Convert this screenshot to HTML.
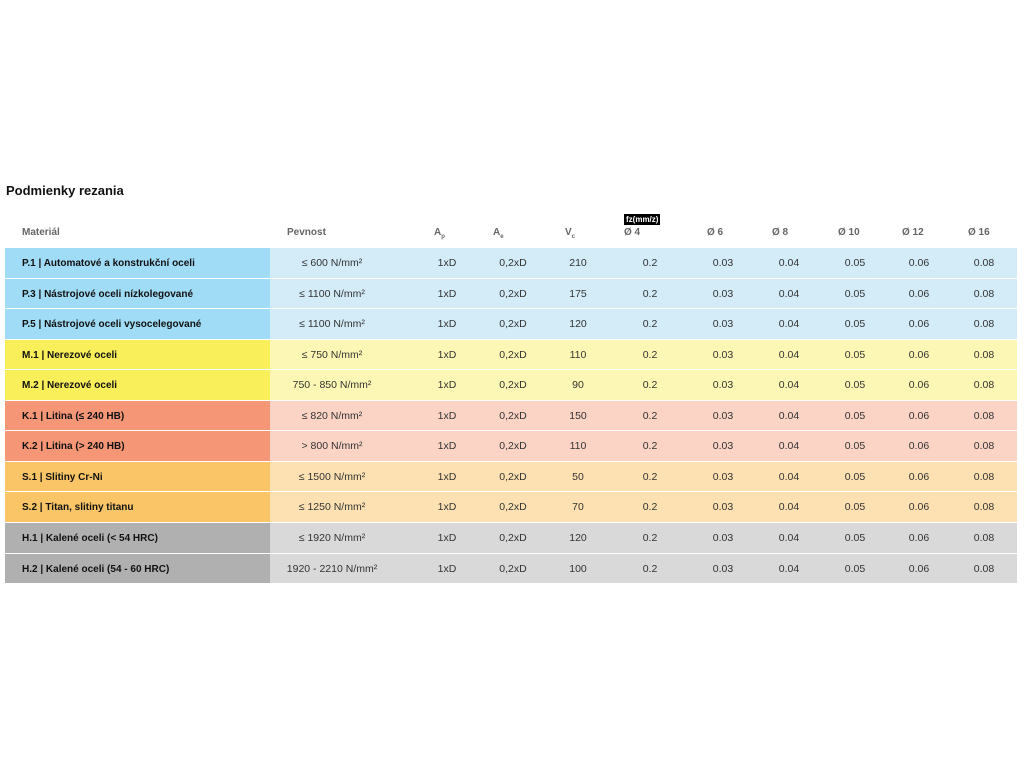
<!DOCTYPE html>
<html><head><meta charset="utf-8"><style>
body{margin:0;width:1024px;height:768px;background:#fff;font-family:"Liberation Sans",sans-serif;position:relative;overflow:hidden}
.t{position:absolute;left:6px;top:183px;font-size:13px;font-weight:bold;color:#111}
.h{position:absolute;top:227px;font-size:10px;font-weight:bold;color:#666}
.h sub{font-size:6px}
.fz{position:absolute;left:624px;top:214px;background:#000;color:#fff;font-size:8px;font-weight:bold;padding:0 2px;line-height:11px}
.r{position:absolute;left:5px;width:1012px;height:29.6px}
.l{position:absolute;left:0;top:0;width:265px;height:100%}
.rt{position:absolute;left:265px;top:0;right:0;height:100%}
.n{position:absolute;left:17px;top:1px;line-height:29.6px;font-size:10px;font-weight:bold;color:#111}
.c{position:absolute;top:1px;line-height:29.6px;font-size:10.5px;color:#333;transform:translateX(-50%);white-space:nowrap}
</style></head><body>
<div class="t">Podmienky rezania</div>
<div class="h" style="left:22px">Materiál</div>
<div class="h" style="left:287px">Pevnost</div>
<div class="h" style="left:434px">A<sub>p</sub></div>
<div class="h" style="left:493px">A<sub>e</sub></div>
<div class="h" style="left:565px">V<sub>c</sub></div>
<div class="fz">fz(mm/z)</div>
<div class="h" style="left:624px">Ø 4</div>
<div class="h" style="left:707px">Ø 6</div>
<div class="h" style="left:772px">Ø 8</div>
<div class="h" style="left:838px">Ø 10</div>
<div class="h" style="left:902px">Ø 12</div>
<div class="h" style="left:968px">Ø 16</div>
<div id="rows"></div>
<script>
var d=[["P.1 | Automatové a konstrukční oceli","≤ 600 N/mm²","210",0],
["P.3 | Nástrojové oceli nízkolegované","≤ 1100 N/mm²","175",0],
["P.5 | Nástrojové oceli vysocelegované","≤ 1100 N/mm²","120",0],
["M.1 | Nerezové oceli","≤ 750 N/mm²","110",1],
["M.2 | Nerezové oceli","750 - 850 N/mm²","90",1],
["K.1 | Litina (≤ 240 HB)","≤ 820 N/mm²","150",2],
["K.2 | Litina (> 240 HB)","> 800 N/mm²","110",2],
["S.1 | Slitiny Cr-Ni","≤ 1500 N/mm²","50",3],
["S.2 | Titan, slitiny titanu","≤ 1250 N/mm²","70",3],
["H.1 | Kalené oceli (< 54 HRC)","≤ 1920 N/mm²","120",4],
["H.2 | Kalené oceli (54 - 60 HRC)","1920 - 2210 N/mm²","100",4]];
var col=[["#a0dcf5","#d3ecf8"],["#f8ef5a","#fdf7b5"],["#f59676","#fbd4c6"],["#f9c566","#fde1b2"],["#b0b0b0","#d9d9d9"]];
var xs=[332,447,513,578,650,723,789,855,919,984];
var h="";
d.forEach(function(r,i){
 var v=[r[1],"1xD","0,2xD",r[2],"0.2","0.03","0.04","0.05","0.06","0.08"];
 h+='<div class="r" style="top:'+(248+i*30.55)+'px"><div class="l" style="background:'+col[r[3]][0]+'"></div><div class="rt" style="background:'+col[r[3]][1]+'"></div><div class="n">'+r[0]+'</div>';
 v.forEach(function(t,j){h+='<div class="c" style="left:'+(xs[j]-5)+'px">'+t+'</div>';});
 h+='</div>';
});
document.getElementById("rows").innerHTML=h;
</script>
</body></html>
